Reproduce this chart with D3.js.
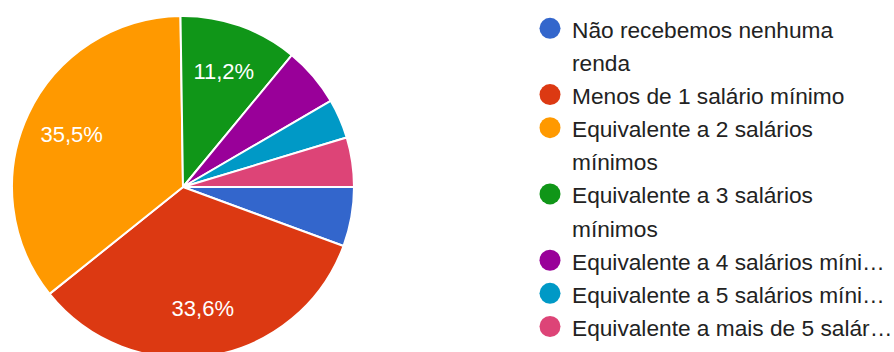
<!DOCTYPE html>
<html>
<head>
<meta charset="utf-8">
<script src="https://cdn.jsdelivr.net/npm/d3@7"></script>
<style>
  html, body { margin: 0; padding: 0; background: #fff; }
  svg { display: block; }
  text { font-family: "Liberation Sans", Arial, sans-serif; }
</style>
</head>
<body>
<div id="chart"></div>
<script>
// Renda familiar mensal — respostas por faixa
const categories = [
  "Não recebemos nenhuma renda",
  "Menos de 1 salário mínimo",
  "Equivalente a 2 salários mínimos",
  "Equivalente a 3 salários mínimos",
  "Equivalente a 4 salários mínimos",
  "Equivalente a 5 salários mínimos",
  "Equivalente a mais de 5 salários mínimos"
];
const counts = [6, 36, 38, 12, 6, 4, 5];
const colors = ["#3366cc", "#dc3912", "#ff9900", "#109618", "#990099", "#0099c6", "#dd4477"];
// Legend entries as they wrap / truncate in the legend column
const legendLines = [
  ["Não recebemos nenhuma", "renda"],
  ["Menos de 1 salário mínimo"],
  ["Equivalente a 2 salários", "mínimos"],
  ["Equivalente a 3 salários", "mínimos"],
  ["Equivalente a 4 salários míni…"],
  ["Equivalente a 5 salários míni…"],
  ["Equivalente a mais de 5 salár…"]
];

const W = 894, H = 352;
const cx = 183, cy = 187, R = 171;

const svg = d3.select("#chart").append("svg")
  .attr("width", W).attr("height", H);

const total = d3.sum(counts);
const data = categories.map((c, i) => ({ name: c, value: counts[i], color: colors[i] }));

const pie = d3.pie()
  .value(d => d.value)
  .sort(null)
  .startAngle(Math.PI / 2)
  .endAngle(Math.PI / 2 + 2 * Math.PI);

const arc = d3.arc().innerRadius(0).outerRadius(R);
const labelArc = d3.arc().innerRadius(R * 0.72).outerRadius(R * 0.72);

const g = svg.append("g").attr("transform", `translate(${cx},${cy})`);
const arcs = pie(data);

g.selectAll("path.slice")
  .data(arcs)
  .join("path")
  .attr("class", "slice")
  .attr("d", arc)
  .attr("fill", d => d.data.color)
  .attr("stroke", "#fff")
  .attr("stroke-width", 2)
  .attr("stroke-linejoin", "round");

const fmt = v => (v * 100).toFixed(1).replace(".", ",") + "%";

g.selectAll("text.pct")
  .data(arcs.filter(d => d.data.value / total >= 0.1))
  .join("text")
  .attr("class", "pct")
  .attr("transform", d => `translate(${labelArc.centroid(d)})`)
  .attr("text-anchor", "middle")
  .attr("dy", "0.36em")
  .attr("fill", "#fff")
  .attr("font-size", 22)
  .text(d => fmt(d.data.value / total));

// Legend
const legX = 550, textX = 572, firstBase = 37.8, lineStep = 33.13;
const leg = svg.append("g");
let lineIdx = 0;
legendLines.forEach((lines, i) => {
  const base = firstBase + lineStep * lineIdx;
  leg.append("circle")
    .attr("cx", legX).attr("cy", base - 9.5).attr("r", 10.5)
    .attr("fill", colors[i]);
  const t = leg.append("text")
    .attr("x", textX).attr("y", base)
    .attr("fill", "#222")
    .attr("font-size", 22.7);
  lines.forEach((ln, j) => {
    t.append("tspan").attr("x", textX).attr("y", base + lineStep * j).text(ln);
  });
  lineIdx += lines.length;
});
</script>
</body>
</html>
